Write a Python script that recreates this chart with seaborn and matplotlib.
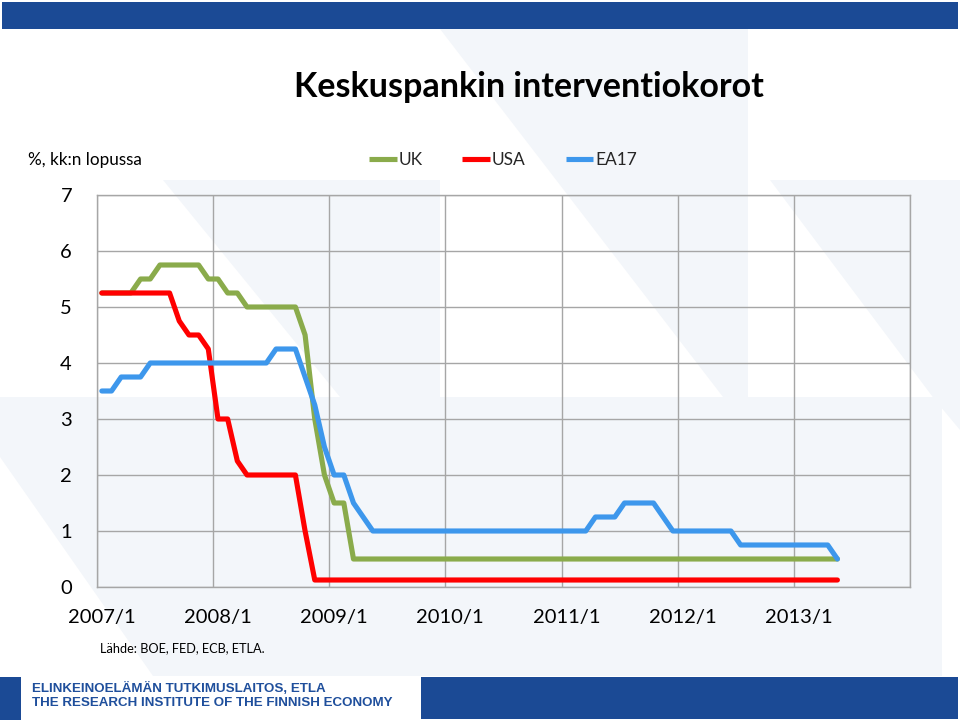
import numpy as np
import pandas as pd
import matplotlib
matplotlib.use("Agg")
import matplotlib.pyplot as plt
from matplotlib.patches import Polygon, Rectangle
from matplotlib.lines import Line2D
import seaborn as sns

# ---------------- data ----------------
series_names = ["UK", "USA", "EA17"]
uk = [5.25, 5.25, 5.25, 5.25, 5.5, 5.5, 5.75, 5.75, 5.75, 5.75, 5.75, 5.5, 5.5, 5.25, 5.25,
      5.0, 5.0, 5.0, 5.0, 5.0, 5.0, 4.5, 3.0, 2.0, 1.5, 1.5,
      0.5, 0.5, 0.5, 0.5, 0.5, 0.5, 0.5, 0.5, 0.5, 0.5, 0.5, 0.5, 0.5, 0.5, 0.5, 0.5, 0.5,
      0.5, 0.5, 0.5, 0.5, 0.5, 0.5, 0.5, 0.5, 0.5, 0.5, 0.5, 0.5, 0.5, 0.5, 0.5, 0.5, 0.5,
      0.5, 0.5, 0.5, 0.5, 0.5, 0.5, 0.5, 0.5, 0.5, 0.5, 0.5, 0.5, 0.5, 0.5, 0.5, 0.5, 0.5]
usa = [5.25, 5.25, 5.25, 5.25, 5.25, 5.25, 5.25, 5.25, 4.75, 4.5, 4.5, 4.25, 3.0, 3.0, 2.25,
       2.0, 2.0, 2.0, 2.0, 2.0, 2.0, 1.0,
       0.125, 0.125, 0.125, 0.125, 0.125, 0.125, 0.125, 0.125, 0.125, 0.125, 0.125, 0.125,
       0.125, 0.125, 0.125, 0.125, 0.125, 0.125, 0.125, 0.125, 0.125, 0.125, 0.125, 0.125,
       0.125, 0.125, 0.125, 0.125, 0.125, 0.125, 0.125, 0.125, 0.125, 0.125, 0.125, 0.125,
       0.125, 0.125, 0.125, 0.125, 0.125, 0.125, 0.125, 0.125, 0.125, 0.125, 0.125, 0.125,
       0.125, 0.125, 0.125, 0.125, 0.125, 0.125, 0.125]
ea17 = [3.5, 3.5, 3.75, 3.75, 3.75, 4.0, 4.0, 4.0, 4.0, 4.0, 4.0, 4.0, 4.0, 4.0, 4.0, 4.0,
        4.0, 4.0, 4.25, 4.25, 4.25, 3.75, 3.25, 2.5, 2.0, 2.0, 1.5, 1.25,
        1.0, 1.0, 1.0, 1.0, 1.0, 1.0, 1.0, 1.0, 1.0, 1.0, 1.0, 1.0, 1.0, 1.0, 1.0, 1.0,
        1.0, 1.0, 1.0, 1.0, 1.0, 1.0, 1.0,
        1.25, 1.25, 1.25, 1.5, 1.5, 1.5, 1.5, 1.25,
        1.0, 1.0, 1.0, 1.0, 1.0, 1.0, 1.0,
        0.75, 0.75, 0.75, 0.75, 0.75, 0.75, 0.75, 0.75, 0.75, 0.75, 0.5]
tick_labels = ["2007/1", "2008/1", "2009/1", "2010/1", "2011/1", "2012/1", "2013/1"]
colors = {"UK": "#8aab4b", "USA": "#ff0000", "EA17": "#3d97ec"}

n_cat = 84  # 2007/1 .. 2013/12 category slots
months = np.arange(len(uk))
df = pd.concat([
    pd.DataFrame({"kk": months, "korko": uk, "sarja": "UK"}),
    pd.DataFrame({"kk": months, "korko": usa, "sarja": "USA"}),
    pd.DataFrame({"kk": months, "korko": ea17, "sarja": "EA17"}),
], ignore_index=True)

# ---------------- figure ----------------
sns.set_theme(style="white")
plt.rcParams["font.family"] = ["Lato", "DejaVu Sans"]

W, H = 960, 720
fig = plt.figure(figsize=(9.6, 7.2), dpi=100)
fig.patch.set_facecolor("white")

def px(pts):
    return [(x / W, 1 - y / H) for x, y in pts]

wm = "#f3f6fa"
# faint watermark shapes (background logo)
for poly in [
    [(0, 397), (942, 397), (942, 676), (0, 676)],
    [(440, 29), (748, 29), (748, 397), (723, 397)],
    [(163, 180), (440, 180), (440, 397), (340, 397)],
    [(770, 180), (960, 180), (960, 430), (935, 400)],
]:
    fig.patches.append(Polygon(px(poly), closed=True, transform=fig.transFigure,
                               facecolor=wm, edgecolor="none", zorder=0))
for poly in [
    [(0, 457), (0, 676), (153, 676)],
]:
    fig.patches.append(Polygon(px(poly), closed=True, transform=fig.transFigure,
                               facecolor="white", edgecolor="none", zorder=0.1))

# header / footer bands
band = "#1b4a95"
fig.patches.append(Rectangle((2 / W, 1 - 29 / H), 956 / W, 27 / H, transform=fig.transFigure,
                             facecolor=band, edgecolor="none", zorder=0.2))
fig.patches.append(Rectangle((0, 0), 21 / W, 43 / H, transform=fig.transFigure,
                             facecolor=band, edgecolor="none", zorder=0.2))
fig.patches.append(Rectangle((421 / W, 1 / H), 537 / W, 42 / H, transform=fig.transFigure,
                             facecolor=band, edgecolor="none", zorder=0.2))

ax = fig.add_axes([97 / W, 1 - 587 / H, (910 - 97) / W, (587 - 195) / H])
ax.set_zorder(3)
ax.set_facecolor("none")

sns.lineplot(data=df, x="kk", y="korko", hue="sarja", hue_order=series_names,
             palette=colors, linewidth=3.7, ax=ax, legend=False, sort=False)
for ln in ax.get_lines():
    ln.set_solid_capstyle("round")
    ln.set_solid_joinstyle("round")

ax.set_xlim(-0.5, n_cat - 0.5)
ax.set_ylim(0, 7)
ax.set_xticks(np.arange(0, 84, 12))
ax.set_xticklabels(tick_labels)
ax.set_xticks(np.arange(-0.5, n_cat, 12), minor=True)
ax.set_yticks(np.arange(0, 8, 1))
ax.set_yticklabels([str(v) for v in range(8)])
ax.grid(False)
ax.grid(True, which="minor", axis="x", color="#a6a6a6", linewidth=1.0)
ax.grid(True, which="major", axis="y", color="#a6a6a6", linewidth=1.0)
ax.tick_params(axis="x", which="both", length=0, pad=16, labelsize=14.5, labelcolor="#000000")
ax.tick_params(axis="y", length=0, pad=18, labelsize=14.5, labelcolor="#000000")
for s in ax.spines.values():
    s.set_visible(True)
    s.set_color("#a6a6a6")
    s.set_linewidth(1.0)
ax.set_xlabel("")
ax.set_ylabel("")

# legend
handles = [Line2D([0], [0], color=colors[s], linewidth=3.7, solid_capstyle="butt") for s in series_names]
leg = fig.legend(handles, series_names, loc="center", bbox_to_anchor=(503 / W, 1 - 160 / H), ncol=3,
                 frameon=False, fontsize=12.5, handlelength=1.6, handletextpad=0.1,
                 columnspacing=2.3)
leg.set_zorder(4)

# texts
fig.text(529 / W, 1 - 87 / H, "Keskuspankin interventiokorot", ha="center", va="center",
         fontsize=24.5, fontweight="bold", color="black")
fig.text(28 / W, 1 - 160 / H, "%, kk:n lopussa", ha="left", va="center", fontsize=12.3, color="black")
fig.text(100 / W, 1 - 648 / H, "Lähde: BOE, FED, ECB, ETLA.", ha="left", va="center",
         fontsize=9.2, color="black")
foot_font = ["Liberation Sans", "DejaVu Sans"]
fig.text(32 / W, 1 - 688 / H, "ELINKEINOELÄMÄN TUTKIMUSLAITOS, ETLA", ha="left", va="center",
         fontsize=9.6, fontweight="bold", color="#1f4f9c", family=foot_font)
fig.text(32 / W, 1 - 703 / H, "THE RESEARCH INSTITUTE OF THE FINNISH ECONOMY", ha="left",
         va="center", fontsize=9.6, fontweight="bold", color="#1f4f9c", family=foot_font)

fig.savefig("out.png", dpi=100, facecolor="white")
